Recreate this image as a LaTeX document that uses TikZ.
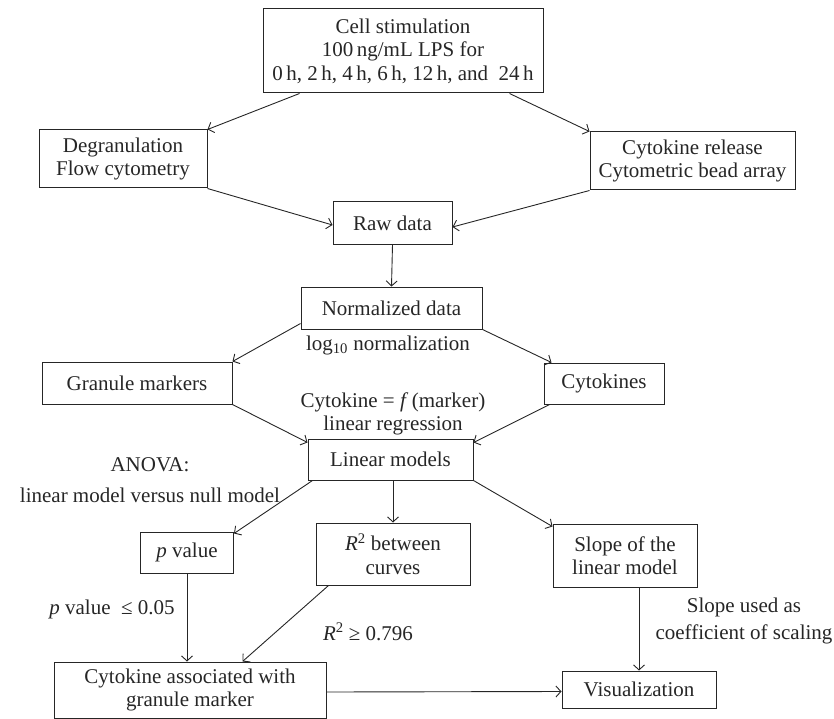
\documentclass[tikz,border=0pt]{standalone}
\usepackage{fontspec}
\setmainfont{Liberation Serif}
\usetikzlibrary{arrows.meta}

\begin{document}
\begin{tikzpicture}[x=1pt, y=-1pt]
\useasboundingbox (0,0) rectangle (834,719);

\tikzset{BoxStyle/.style = {
 draw = black!85,
 line width = 1pt,
 align = center,
 inner sep = 2pt,
 text = black!85,
 font = \fontsize{21}{23.5}\selectfont} }

\tikzset{LabelStyle/.style = {
 align = center,
 inner sep = 0pt,
 text = black!85,
 font = \fontsize{21}{23.5}\selectfont} }

% boxes
\node[BoxStyle, minimum width=280, minimum height=84] (B1) at (403, 51)
 {Cell stimulation\\100\,ng/mL LPS for\\0\,h, 2\,h, 4\,h, 6\,h, 12\,h, and~ 24\,h};
\node[BoxStyle, minimum width=168, minimum height=58] (B2) at (123, 159) {Degranulation\\Flow cytometry};
\node[BoxStyle, minimum width=205, minimum height=58] (B3) at (692.5, 161) {Cytokine release\\Cytometric bead array};
\node[BoxStyle, minimum width=119, minimum height=42] (B4) at (392.5, 223) {Raw data};
\node[BoxStyle, minimum width=181, minimum height=42] (B5) at (391.5, 308) {Normalized data};
\node[BoxStyle, minimum width=190, minimum height=42] (B6) at (137, 383) {Granule markers};
\node[BoxStyle, minimum width=120, minimum height=41] (B7) at (604, 383.5) {Cytokines};
\node[BoxStyle, minimum width=165, minimum height=41] (B8) at (390.5, 459.5) {Linear models};
\node[BoxStyle, minimum width=93, minimum height=41] (B9) at (187, 552.5) {\textit{p} value};
\node[BoxStyle, minimum width=154, minimum height=62] (B10) at (393, 554) {\textit{R}\textsuperscript{2} between\\curves};
\node[BoxStyle, minimum width=144, minimum height=63] (B11) at (625, 555.5) {Slope of the\\linear model};
\node[BoxStyle, minimum width=272, minimum height=56] (B12) at (190, 690) {Cytokine associated with\\granule marker};
\node[BoxStyle, minimum width=154, minimum height=37] (B13) at (639, 689.5) {Visualization};

% labels
\node[LabelStyle] (L1) at (388, 345) {log\textsubscript{10} normalization};
\node[LabelStyle] (L2) at (393, 414) {Cytokine = \textit{f}\,(marker)\\linear regression};
\node[LabelStyle] (L3) at (150, 480) {ANOVA:\\[7pt]linear model versus null model};
\node[LabelStyle] (L4) at (112, 609) {\textit{p} value ~≤ 0.05};
\node[LabelStyle] (L5) at (368, 632) {\textit{R}\textsuperscript{2} ≥ 0.796};
\node[LabelStyle] (L6) at (744, 621) {Slope used as\\[4pt]coefficient of scaling};

\tikzset{ArrowStyle/.style = {
 draw = black!85,
 line width = 0.9pt,
 -{Straight Barb[length=5pt, width=11pt]}} }

\draw[ArrowStyle] ([xshift=37pt]B1.south west) -- (B2.north east);
\draw[ArrowStyle] ([xshift=-34pt]B1.south east) -- (B3.north west);
\draw[ArrowStyle] (B2.south east) -- ([yshift=-2pt]B4.west);
\draw[ArrowStyle] (B3.south west) -- ([yshift=-4pt]B4.east);
\draw[ArrowStyle] (B4.south) -- (B5.north);
\draw[ArrowStyle] ([yshift=6pt]B5.south west) -- (B6.north east);
\draw[ArrowStyle] (B5.south east) -- ([xshift=8pt]B7.north west);
\draw[ArrowStyle] (B6.south east) -- ([yshift=-4pt]B8.north west);
\draw[ArrowStyle] ([xshift=6pt]B7.south west) -- ([yshift=-4pt]B8.north east);
\draw[ArrowStyle] ([xshift=5pt]B8.south west) -- ([yshift=-2pt]B9.north east);
\draw[ArrowStyle] (B8.south -| B10.north) -- (B10.north);
\draw[ArrowStyle] (B8.south east) -- ([yshift=-3pt]B11.north west);
\draw[ArrowStyle] (B9.south) -- (B9.south |- B12.north);
\draw[ArrowStyle] ([xshift=13pt]B10.south west) -- ([xshift=-84pt]B12.north east);
\draw[ArrowStyle] ([yshift=-2pt]B12.east) -- ([yshift=-2pt]B13.west);
\draw[ArrowStyle] (B13.north |- B11.south) -- (B13.north);

\end{tikzpicture}
\end{document}
